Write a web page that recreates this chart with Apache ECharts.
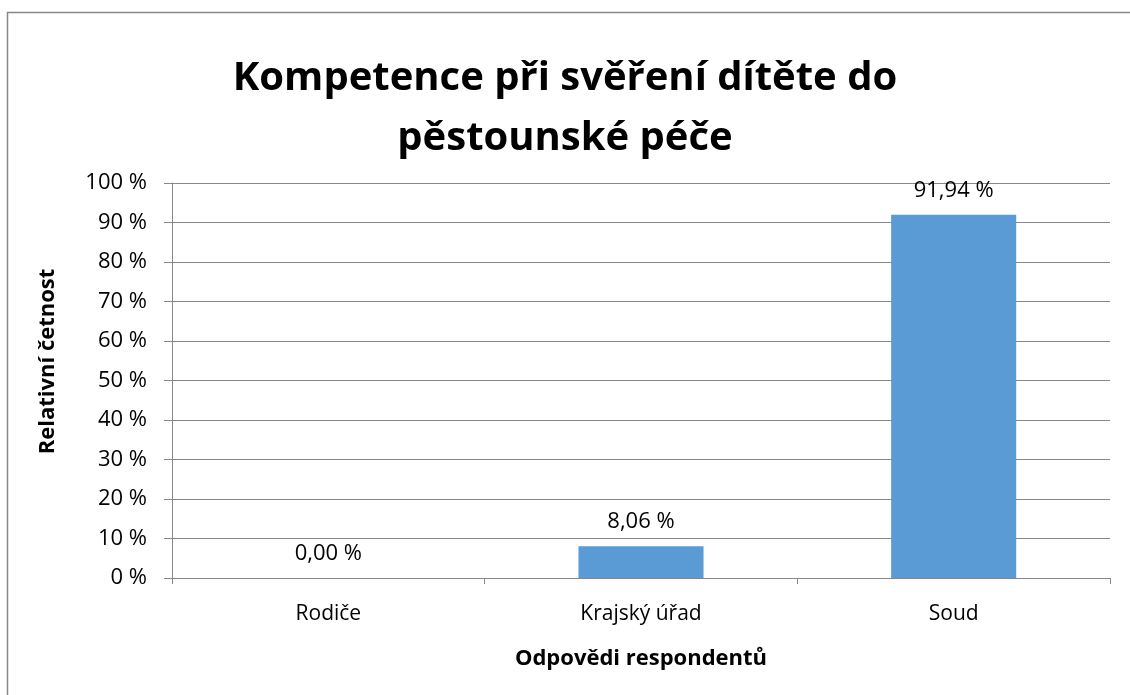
<!DOCTYPE html>
<html>
<head>
<meta charset="utf-8">
<script src="https://cdn.jsdelivr.net/npm/echarts@6/dist/echarts.min.js"></script>
<style>html,body{margin:0;padding:0;background:#fff}#c{width:1130px;height:695px}</style>
</head>
<body>
<div id="c"></div>
<script>
var titleText = 'Kompetence při svěření dítěte do\npěstounské péče';
var categories = ['Rodiče', 'Krajský úřad', 'Soud'];
var values = [0.00, 8.06, 91.94];
var yTicks = { min: 0, max: 100, interval: 10 };
var xAxisName = 'Odpovědi respondentů';
var yAxisName = 'Relativní četnost';

var font = '"Open Sans", "Noto Sans", sans-serif';
var chart = echarts.init(document.getElementById('c'), null, { renderer: 'canvas' });
chart.setOption({
  animation: false,
  graphic: [{
    type: 'rect', shape: { x: 7.5, y: 12.5, width: 1140, height: 700 },
    style: { fill: 'none', stroke: '#888888', lineWidth: 1.5 }, z: -1
  }],
  title: {
    text: titleText, left: 'center', top: 44,
    textStyle: { fontFamily: font, fontWeight: 'bold', fontSize: 40, lineHeight: 60, color: '#000' }
  },
  grid: { left: 172, right: 20, top: 183, bottom: 117, containLabel: false },
  xAxis: {
    type: 'category', data: categories,
    name: xAxisName, nameLocation: 'middle', nameGap: 70,
    nameTextStyle: { fontFamily: font, fontWeight: 'bold', fontSize: 22, color: '#000' },
    axisLine: { lineStyle: { color: '#888888', width: 1 } },
    axisTick: { show: true, alignWithLabel: false, length: 6, lineStyle: { color: '#888888' } },
    axisLabel: { fontFamily: font, fontSize: 21, color: '#000', margin: 26 }
  },
  yAxis: {
    type: 'value', min: yTicks.min, max: yTicks.max, interval: yTicks.interval,
    name: yAxisName, nameLocation: 'middle', nameGap: 113, nameRotate: 90,
    nameTextStyle: { fontFamily: font, fontWeight: 'bold', fontSize: 22, color: '#000', padding: [0, 0, 0, 38] },
    axisLine: { show: true, lineStyle: { color: '#888888', width: 1 } },
    axisTick: { show: true, length: 8, lineStyle: { color: '#888888' } },
    axisLabel: { fontFamily: font, fontSize: 22, color: '#000', margin: 25, formatter: '{value} %' },
    splitLine: { show: true, lineStyle: { color: '#888888', width: 1 } }
  },
  series: [{
    type: 'bar', data: values, barWidth: '40%',
    itemStyle: { color: '#5B9BD5' },
    label: {
      show: true, position: 'top', distance: 13,
      fontFamily: font, fontSize: 22, color: '#000',
      formatter: function (p) { return p.value.toFixed(2).replace('.', ',') + ' %'; }
    }
  }]
});
</script>
</body>
</html>
